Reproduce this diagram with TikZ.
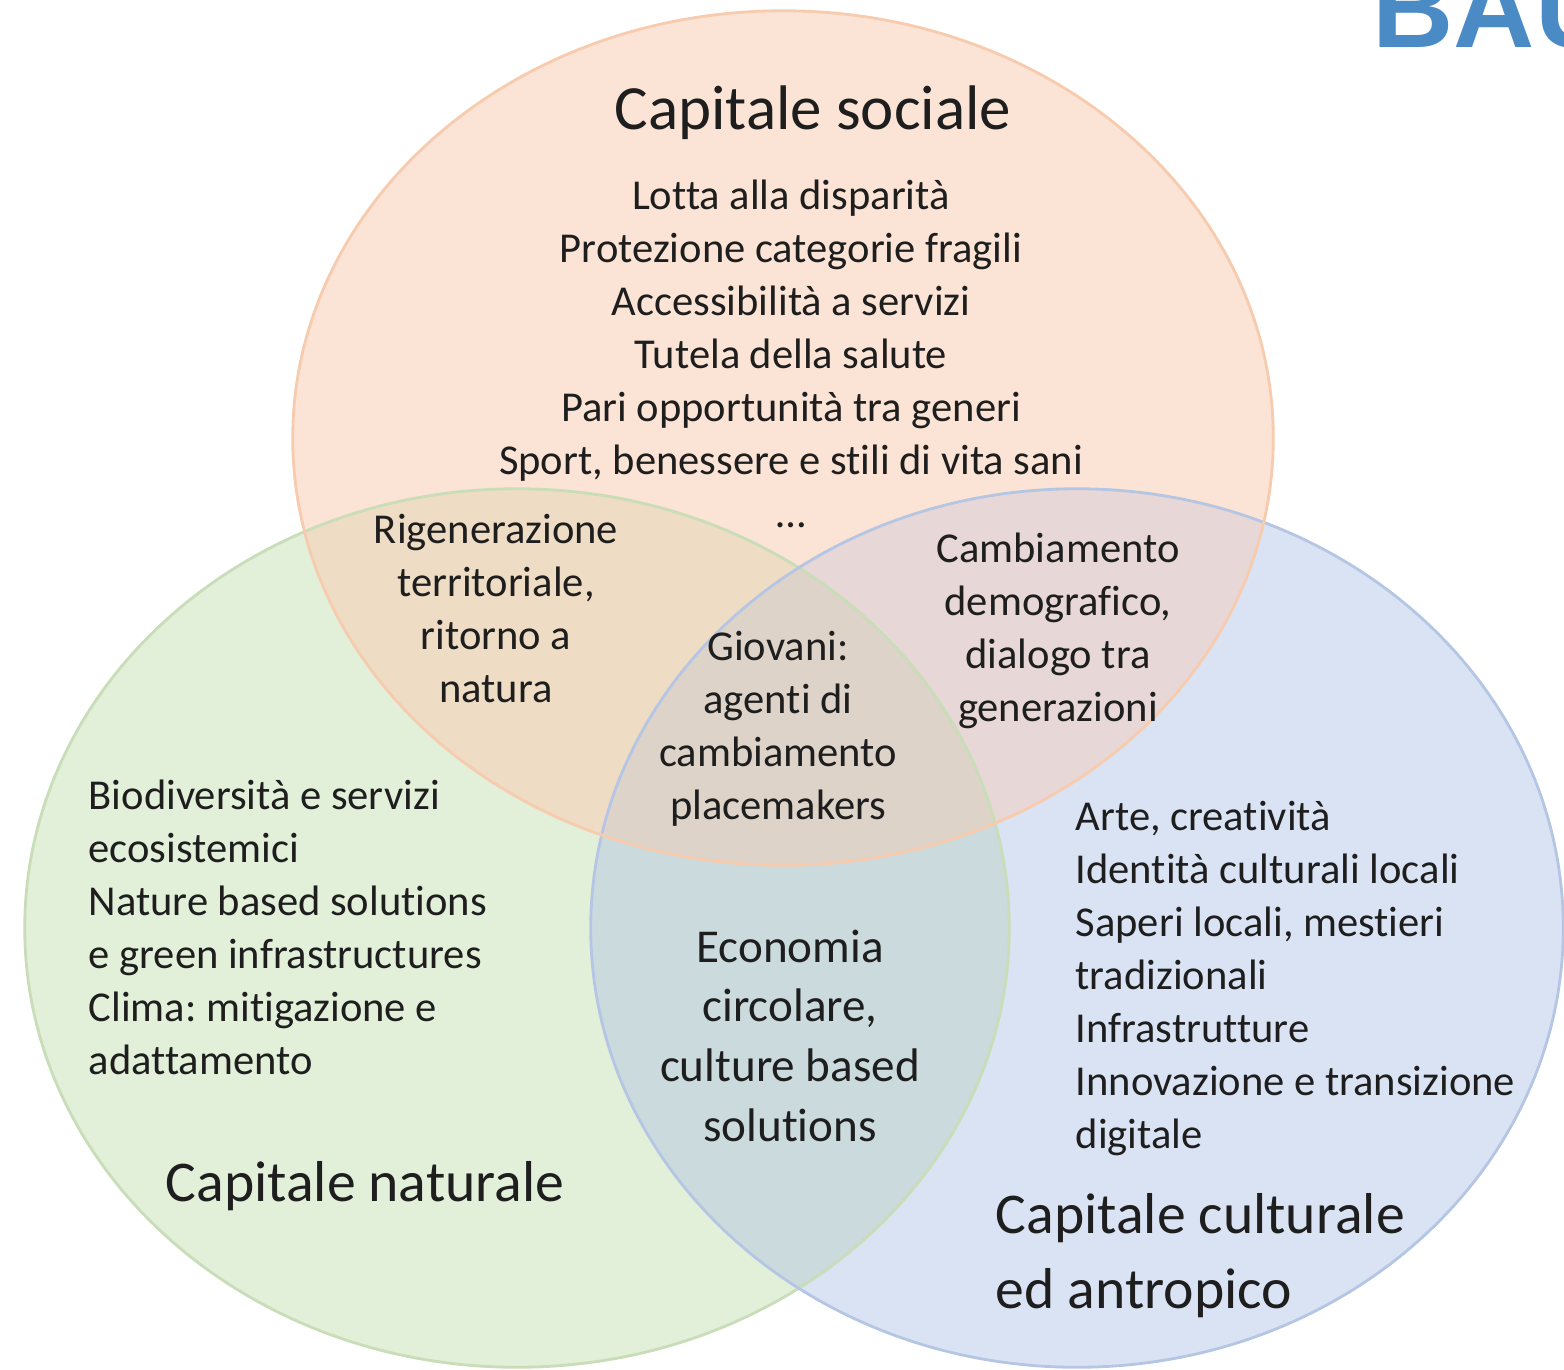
\documentclass[tikz,border=0pt]{standalone}
\usepackage{fontspec}
\setmainfont{Carlito}[Ligatures={NoCommon}]
\newfontfamily\baufont{Liberation Sans}
\definecolor{socfill}{HTML}{FBE4D5}
\definecolor{natfill}{HTML}{E2EFD9}
\definecolor{culfill}{HTML}{DAE3F3}
\definecolor{snfill}{HTML}{EEDCC4}
\definecolor{scfill}{HTML}{E7D7D7}
\definecolor{ncfill}{HTML}{CBDADD}
\definecolor{sncfill}{HTML}{DDD3C9}
\definecolor{socline}{HTML}{F6CBAE}
\definecolor{natline}{HTML}{C8DDB8}
\definecolor{culline}{HTML}{B4C6E4}
\definecolor{ink}{HTML}{1E1E1E}
\definecolor{baublue}{HTML}{4A8BC6}
\frenchspacing
\begin{document}
\begin{tikzpicture}[x=0.01cm,y=-0.01cm,
  bodytxt/.style={font=\fontsize{12.1pt}{15.1pt}\selectfont, text=ink, inner sep=0pt, anchor=base},
  bodyleft/.style={bodytxt, anchor=base west},
  bigtxt/.style={font=\fontsize{13.4pt}{17pt}\selectfont, text=ink, inner sep=0pt, anchor=base},
  titletxt/.style={font=\fontsize{17.9pt}{21.3pt}\selectfont, text=ink, inner sep=0pt, anchor=base},
  subtitletxt/.style={font=\fontsize{16.4pt}{21.3pt}\selectfont, text=ink, inner sep=0pt, anchor=base},
  rim/.style={line width=0.8pt}]
\useasboundingbox (0,0) rectangle (1564,1369);
\clip (0,0) rectangle (1564,1369);
\def\pS{(783,438) ellipse [x radius=4.90cm, y radius=4.27cm]}
\def\pN{(517,928) ellipse [x radius=4.92cm, y radius=4.39cm]}
\def\pC{(1077,928) ellipse [x radius=4.86cm, y radius=4.39cm]}
% base fills
\fill[socfill] \pS;
\fill[natfill] \pN;
\fill[culfill] \pC;
% overlaps
\begin{scope}
  \clip \pN;
  \fill[ncfill] \pC;
\end{scope}
\begin{scope}
  \clip \pS;
  \fill[snfill] \pN;
  \fill[scfill] \pC;
  \clip \pN;
  \fill[sncfill] \pC;
\end{scope}
% outlines
\draw[rim, natline] \pN;
\draw[rim, culline] \pC;
\draw[rim, socline] \pS;
% partial heading at top right (cut by the picture edge, as in the reference)
\node[anchor=base west, inner sep=0pt, text=baublue,
      font=\fontsize{32pt}{32pt}\baufont\bfseries] (bau) at (1372,47.7) {BAU};
% social capital
\node[titletxt] (soctitle) at (813,129) {Capitale sociale};
\foreach \t [count=\i from 0] in {{Lotta alla disparità},{Protezione categorie fragili},{Accessibilità a servizi},{Tutela della salute},{Pari opportunità tra generi},{Sport, benessere e stili di vita sani},{…}}
  \node[bodytxt] (soc\i) at ({791},{209+53*\i}) {\t};
% social & natural
\foreach \t [count=\i from 0] in {{Rigenerazione},{territoriale,},{ritorno a},{natura}}
  \node[bodytxt] (sn\i) at ({496},{543+53*\i}) {\t};
% social & cultural
\foreach \t [count=\i from 0] in {{Cambiamento},{demografico,},{dialogo tra},{generazioni}}
  \node[bodytxt] (sc\i) at ({1058},{562+53*\i}) {\t};
% all three
\foreach \t [count=\i from 0] in {{Giovani:},{agenti di},{cambiamento},{placemakers}}
  \node[bodytxt] (snc\i) at ({778},{660+53*\i}) {\t};
% natural & cultural
\foreach \t [count=\i from 0] in {{Economia},{circolare,},{culture based},{solutions}}
  \node[bigtxt] (nc\i) at ({790},{962+59.7*\i}) {\t};
% natural capital
\foreach \t [count=\i from 0] in {{Biodiversità e servizi},{ecosistemici},{Nature based solutions},{e green infrastructures},{Clima: mitigazione e},{adattamento}}
  \node[bodyleft] (nat\i) at ({88},{809+53*\i}) {\t};
\node[subtitletxt] (nattitle) at (365,1201) {Capitale naturale};
% cultural capital
\foreach \t [count=\i from 0] in {{Arte, creatività},{Identità culturali locali},{Saperi locali, mestieri},{tradizionali},{Infrastrutture},{Innovazione e transizione},{digitale}}
  \node[bodyleft] (cul\i) at ({1075},{830+53*\i}) {\t};
\node[subtitletxt, anchor=base west] (cultitle1) at (995,1233) {Capitale culturale};
\node[subtitletxt, anchor=base west] (cultitle2) at (995,1308) {ed antropico};
\end{tikzpicture}
\end{document}
